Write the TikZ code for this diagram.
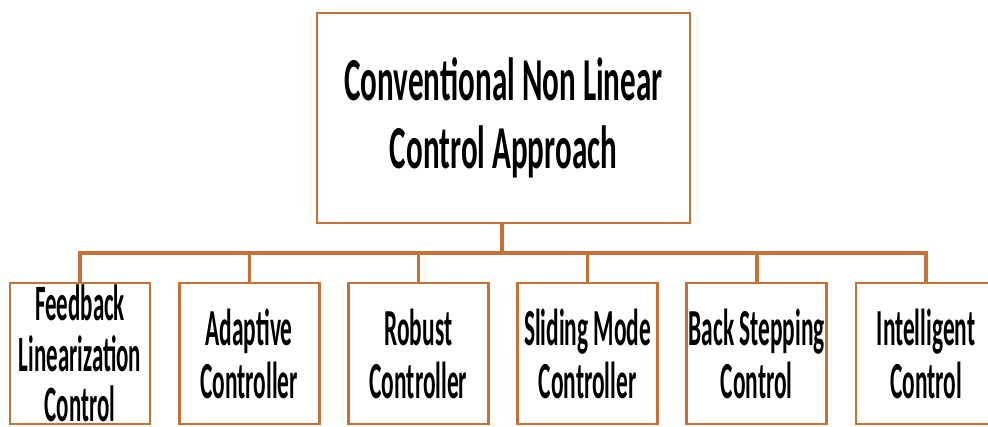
\documentclass[tikz,border=0pt]{standalone}
\usepackage{fontspec}
\usepackage{xcolor}
\usepackage{tikz}
\usetikzlibrary{positioning, calc}

\newfontfamily\topfont{Carlito}[FakeStretch=0.51]
\newfontfamily\leaffont{Carlito}[FakeStretch=0.45]
\definecolor{boxline}{RGB}{197,112,52}

\begin{document}
\begin{tikzpicture}[x=1pt, y=1pt,
  topbox/.style={draw=boxline, line width=2.8pt, fill=white, minimum width=373pt, minimum height=210pt, align=center, inner sep=0pt, font=\topfont\bfseries\fontsize{61}{68}\selectfont},
  leafbox/.style={draw=boxline, line width=2.8pt, fill=white, minimum width=140pt, minimum height=141pt, align=center, inner sep=0pt, font=\leaffont\bfseries\fontsize{52}{53}\selectfont},
  link/.style={draw=boxline, line width=3.4pt}]
\useasboundingbox (0,0) rectangle (988,426);
\clip (0,0) rectangle (988,426);
\fill[white] (0,0) rectangle (988,426);

\node[topbox] (main) at (503.5,308) {Conventional Non Linear\\Control Approach};

\node[leafbox, font=\leaffont\bfseries\fontsize{51}{50.5}\selectfont] (fbl) at (80,72.5) {Feedback\\Linearization\\Control};
\node[leafbox] (adapt) at (249.2,72.5) {Adaptive\\Controller};
\node[leafbox] (robust) at (418.4,72.5) {Robust\\Controller};
\node[leafbox] (smc) at (587.6,72.5) {Sliding Mode\\Controller};
\node[leafbox] (bsc) at (756.8,72.5) {Back Stepping\\Control};
\node[leafbox] (intel) at (926,72.5) {Intelligent\\Control};

% tree connectors
\coordinate (bar) at (502,173);
\draw[link] (main.south -| bar) -- (bar);
\draw[link] (fbl.north) |- (bar) -| (intel.north);
\foreach \leaf in {adapt, robust, smc, bsc}
  \draw[link] (\leaf.north) -- (\leaf.north |- bar);
\end{tikzpicture}
\end{document}
